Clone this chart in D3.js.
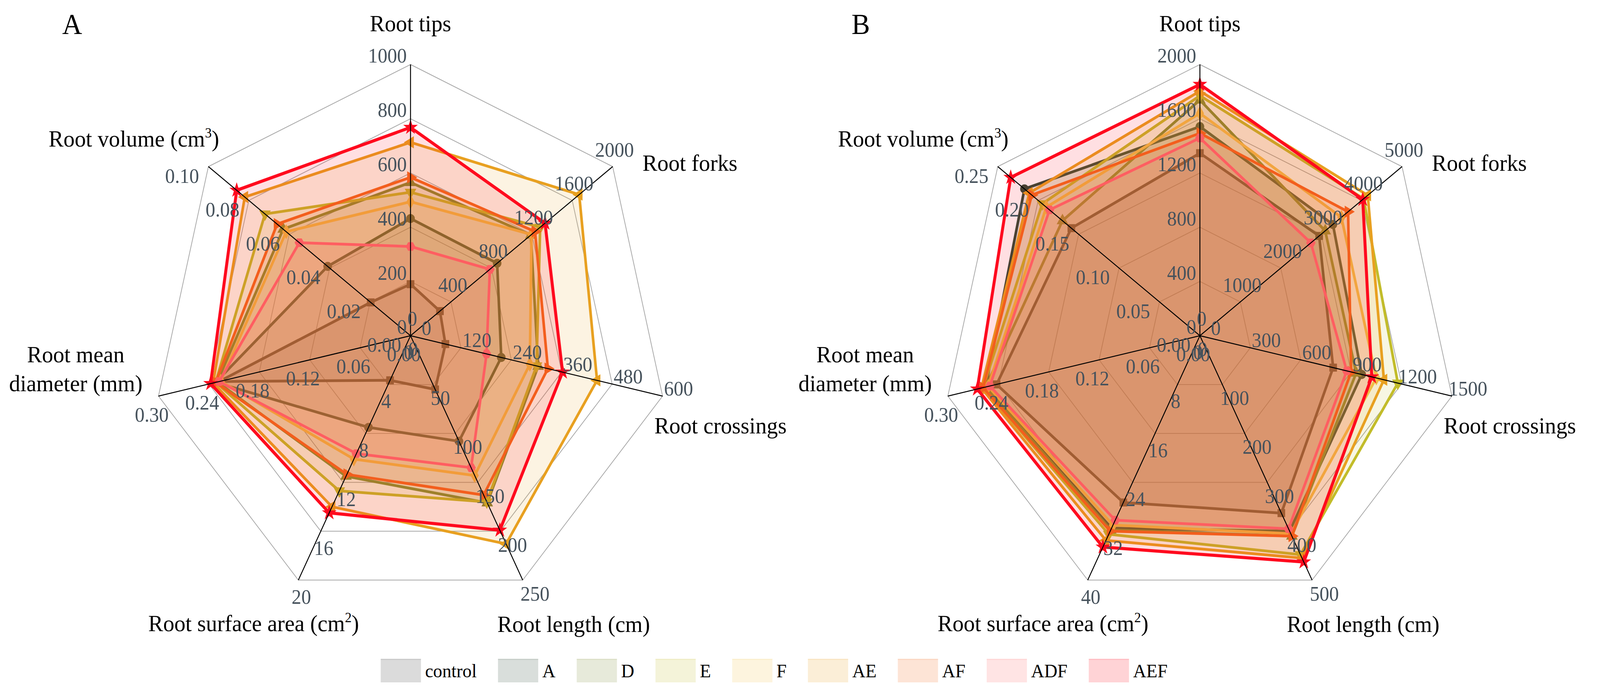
<!DOCTYPE html>
<html>
<head>
<script src="https://d3js.org/d3.v7.min.js"></script>
<style>
  html, body { margin: 0; padding: 0; background: #fff; overflow: hidden; }
  svg { display: block; }
  svg, text, tspan { font-family: "Liberation Serif", "Times New Roman", Times, serif; }
</style>
</head>
<body>
<svg id="svg"></svg>
<script>
// ---- data ----
const groups = ["control", "A", "D", "E", "F", "AE", "AF", "ADF", "AEF"];
const axisNames = ["Root tips", "Root forks", "Root crossings", "Root length (cm)",
  "Root surface area (cm2)", "Root mean diameter (mm)", "Root volume (cm3)"];

const tickLabelsA = [
  ["0", "200", "400", "600", "800", "1000"],
  ["0", "400", "800", "1200", "1600", "2000"],
  ["0", "120", "240", "360", "480", "600"],
  ["0", "50", "100", "150", "200", "250"],
  ["0", "4", "8", "12", "16", "20"],
  ["0.00", "0.06", "0.12", "0.18", "0.24", "0.30"],
  ["0.00", "0.02", "0.04", "0.06", "0.08", "0.10"]];
const tickLabelsB = [
  ["0", "400", "800", "1200", "1600", "2000"],
  ["0", "1000", "2000", "3000", "4000", "5000"],
  ["0", "300", "600", "900", "1200", "1500"],
  ["0", "100", "200", "300", "400", "500"],
  ["0", "8", "16", "24", "32", "40"],
  ["0.00", "0.06", "0.12", "0.18", "0.24", "0.30"],
  ["0.00", "0.05", "0.10", "0.15", "0.20", "0.25"]];

// values per group: tips, forks, crossings, length, surface area, diameter, volume
const valuesA = [
  [190, 291, 83, 55, 3.65, 0.228, 0.0197],
  [432, 857, 216, 108, 7.5, 0.232, 0.041],
  [565, 1190, 304, 171, 11.5, 0.230, 0.063],
  [529, 1283, 300, 170, 12.7, 0.232, 0.072],
  [494, 1197, 284, 143, 10.1, 0.226, 0.0615],
  [713, 1669, 444, 213, 14.0, 0.235, 0.082],
  [584, 1232, 327, 163, 11.35, 0.232, 0.066],
  [329, 785, 181, 135, 9.65, 0.228, 0.055],
  [768, 1331, 362, 199, 14.5, 0.238, 0.086]];
const valuesB = [
  [1346, 2950, 793, 363, 27.3, 0.242, 0.159],
  [1542, 3290, 963, 400, 31.5, 0.255, 0.217],
  [1738, 3100, 930, 410, 31.8, 0.255, 0.170],
  [1770, 4050, 1178, 448, 32.5, 0.258, 0.195],
  [1640, 3500, 1050, 405, 31.0, 0.252, 0.190],
  [1804, 4152, 1095, 455, 33.5, 0.260, 0.211],
  [1493, 3665, 900, 410, 32.0, 0.258, 0.208],
  [1458, 2745, 874, 395, 30.2, 0.250, 0.186],
  [1853, 4028, 1023, 463, 34.6, 0.265, 0.234]];

const colors = ["#3a3a3a", "#2f4a35", "#7a8a30", "#c2bc2a", "#f2c24a",
  "#e8a020", "#f26b1d", "#ff6b6b", "#ff0a1e"];
const symbols = ["square", "circle", "triUp", "triDown", "diamond", "triLeft", "triRight", "hexagon", "star"];

// ---- layout ----
const W = 4295, H = 1786;
const R = 694;
const fillOpacity = 0.13;
const font = "Liberation Serif, Times New Roman, serif";
// drawing space is 4295x1786, stretched onto whatever the window really is
const svg = d3.select("#svg")
  .attr("viewBox", `0 0 ${W} ${H}`)
  .attr("preserveAspectRatio", "none")
  .style("width", "100vw").style("height", "100vh")
  .attr("font-family", font);

const angle = k => k * 2 * Math.PI / 7;
const dirOf = k => [Math.sin(angle(k)), -Math.cos(angle(k))];

// tick label placement per axis: anchor, dx, dy from the tick point
const tickPlace = [
  ["end", -10, -22], ["middle", 5, -43], ["middle", 43, -19], ["start", -6, 35],
  ["start", -18, 43], ["middle", -18, 48], ["end", -25, 24]];

function symbolPath(name, size) {
  if (name === "hexagon") {
    const r = Math.sqrt(size / (1.5 * Math.sqrt(3)));
    return d3.line()(d3.range(6).map(i => [r * Math.cos(i * Math.PI / 3), r * Math.sin(i * Math.PI / 3)])) + "Z";
  }
  const map = { square: d3.symbolSquare, circle: d3.symbolCircle, triUp: d3.symbolTriangle,
    triDown: d3.symbolTriangle, triLeft: d3.symbolTriangle, triRight: d3.symbolTriangle,
    diamond: d3.symbolDiamond, star: d3.symbolStar };
  return d3.symbol().type(map[name]).size(size)();
}
const symbolRot = { triDown: 180, triLeft: -90, triRight: 90 };

function drawPanel(cx, cy, tickLabels, values, letter) {
  const g = svg.append("g");
  const maxes = tickLabels.map(t => +t[t.length - 1]);
  const scales = maxes.map(m => d3.scaleLinear().domain([0, m]).range([0, R]));
  const pt = (k, r) => { const d = dirOf(k); return [cx + d[0] * r, cy + d[1] * r]; };

  // grid
  const levels = d3.range(1, 6).map(i => i / 5);
  g.selectAll(".grid").data(levels).enter().append("path")
    .attr("d", f => d3.line()(d3.range(7).map(k => pt(k, f * R))) + "Z")
    .attr("fill", "none").attr("stroke", "#a8a8a8").attr("stroke-width", 2);

  // series: fill, line and markers, drawn in legend order
  values.forEach((vals, gi) => {
    const pts = vals.map((v, k) => pt(k, scales[k](v)));
    g.append("path").attr("d", d3.line()(pts) + "Z")
      .attr("fill", colors[gi]).attr("fill-opacity", fillOpacity)
      .attr("stroke", colors[gi]).attr("stroke-width", gi === 8 ? 8 : 7)
      .attr("stroke-linejoin", "round");
    g.selectAll(null).data(pts).enter().append("path")
      .attr("d", symbolPath(symbols[gi], gi === 8 ? 480 : 420))
      .attr("transform", p => `translate(${p[0]},${p[1]}) rotate(${symbolRot[symbols[gi]] || 0})`)
      .attr("fill", colors[gi]);
  });

  // axes
  d3.range(7).forEach(k => {
    const e = pt(k, R);
    g.append("line").attr("x1", cx).attr("y1", cy).attr("x2", e[0]).attr("y2", e[1])
      .attr("stroke", "#000").attr("stroke-width", 2.5);
  });

  // tick labels
  d3.range(7).forEach(k => {
    tickLabels[k].forEach(lab => {
      const p = pt(k, scales[k](+lab));
      const tp = tickPlace[k];
      g.append("text").attr("x", p[0] + tp[1]).attr("y", p[1] + tp[2])
        .attr("text-anchor", tp[0]).attr("dominant-baseline", "central")
        .attr("font-family", font)
        .attr("font-size", 52).attr("fill", "#46525c").text(lab);
    });
  });

  // axis titles
  const fs = 60;
  const title = (k, dx, dy, anchor, parts) => {
    const e = pt(k, R);
    const t = g.append("text").attr("x", e[0] + dx).attr("y", e[1] + dy)
      .attr("text-anchor", anchor).attr("font-size", fs).attr("fill", "#000")
      .attr("font-family", font);
    parts.forEach(p => {
      if (p[1]) t.append("tspan").attr("font-size", fs * 0.6).attr("dy", -fs * 0.38).text(p[0]);
      else t.append("tspan").attr("dy", p[2] || 0).text(p[0]);
    });
  };
  title(0, 0, -85, "middle", [["Root tips"]]);
  title(1, 80, 11, "start", [["Root forks"]]);
  title(2, -22, 96, "start", [["Root crossings"]]);
  title(3, 137, 133, "middle", [["Root length (cm)"]]);
  title(4, -120, 131, "middle", [["Root surface area (cm"], ["2", true], [")", false, fs * 0.38]]);
  title(5, -222, -86, "middle", [["Root mean"]]);
  title(5, -222, -12, "middle", [["diameter (mm)"]]);
  title(6, -200, -51, "middle", [["Root volume (cm"], ["3", true], [")", false, fs * 0.38]]);

  svg.append("text").attr("x", cx - 935).attr("y", 87).attr("font-size", 74)
    .attr("font-family", font).attr("fill", "#000").text(letter);
}

drawPanel(1102, 859, tickLabelsA, valuesA, "A");
drawPanel(3221, 859, tickLabelsB, valuesB, "B");

// legend
const lg = svg.append("g");
let lx = 1022;
const ly = 1686, sw = 108, sh = 60;
groups.forEach((name, gi) => {
  lg.append("rect").attr("x", lx).attr("y", ly).attr("width", sw).attr("height", sh)
    .attr("fill", colors[gi]).attr("fill-opacity", 0.18);
  lg.append("line").attr("x1", lx).attr("x2", lx + sw).attr("y1", ly + 1).attr("y2", ly + 1)
    .attr("stroke", colors[gi]).attr("stroke-opacity", 0.12).attr("stroke-width", 3);
  const t = lg.append("text").attr("x", lx + sw + 11).attr("y", ly + sh / 2)
    .attr("dominant-baseline", "central").attr("font-size", 49).attr("fill", "#000")
    .attr("font-family", font).text(name);
  lx += sw + 11 + t.node().getComputedTextLength() + 57;
});
</script>
</body>
</html>
